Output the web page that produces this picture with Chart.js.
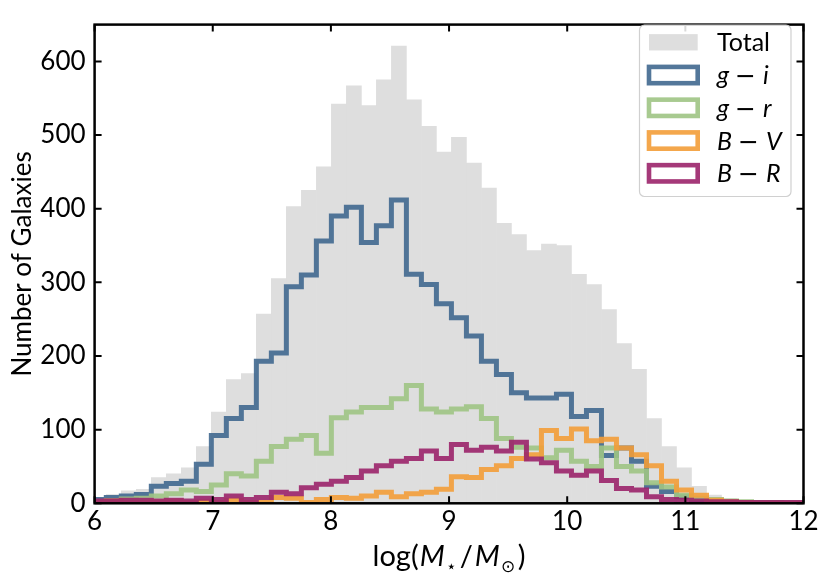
<!DOCTYPE html>
<html>
<head>
<meta charset="utf-8">
<script src="https://cdn.jsdelivr.net/npm/chart.js@4.4.0/dist/chart.umd.min.js"></script>
<style>
  html, body { margin: 0; padding: 0; background: #fff; }
</style>
</head>
<body>
<canvas id="histChart" width="830" height="583"></canvas>
<script>
// bin edges of the mass histogram (log M*/Msun)
const binEdges = [5.972, 6.099, 6.226, 6.353, 6.480, 6.607, 6.734, 6.861, 6.988, 7.115,
  7.242, 7.369, 7.496, 7.623, 7.750, 7.877, 8.004, 8.131, 8.258, 8.385,
  8.512, 8.639, 8.766, 8.893, 9.020, 9.147, 9.274, 9.401, 9.528, 9.655,
  9.782, 9.909, 10.036, 10.163, 10.290, 10.417, 10.544, 10.671, 10.798, 10.925,
  11.052, 11.179, 11.306, 11.433, 11.560, 11.687, 11.814, 11.941, 12.068];

const totalCounts = [7, 12, 17, 19, 35, 40, 48, 77, 124, 168, 176, 257, 305, 403, 425, 457,
  542, 567, 540, 575, 621, 548, 512, 477, 497, 462, 428, 380, 365, 343, 352, 350,
  311, 297, 263, 217, 182, 115, 77, 48, 23, 11, 6, 4, 3, 2, 1, 1];
const giCounts = [5, 8, 10, 12, 23, 27, 30, 53, 92, 115, 130, 193, 204, 294, 310, 356,
  390, 402, 354, 377, 412, 311, 297, 271, 252, 227, 193, 175, 150, 143, 143, 148,
  118, 126, 65, 75, 57, 23, 16, 9, 4, 2, 1, 0, 0, 0, 0, 0];
const grCounts = [2, 3, 6, 7, 10, 13, 18, 16, 25, 40, 37, 57, 77, 87, 92, 68,
  116, 124, 130, 130, 142, 160, 128, 124, 128, 131, 115, 88, 76, 75, 62, 72,
  57, 50, 75, 50, 44, 28, 22, 11, 7, 5, 3, 2, 1, 1, 0, 0];
const bvCounts = [1, 3, 1, 1, 2, 3, 1, 2, 1, 4, 1, 1, 8, 7, 1, 5,
  8, 7, 10, 15, 9, 13, 15, 19, 36, 35, 46, 51, 61, 66, 99, 88,
  101, 85, 87, 75, 66, 51, 30, 18, 11, 4, 2, 1, 0, 0, 0, 0];
const brCounts = [3, 3, 4, 4, 3, 4, 3, 7, 5, 10, 5, 8, 15, 13, 21, 26,
  30, 35, 44, 51, 57, 61, 71, 61, 80, 72, 76, 71, 83, 60, 55, 44,
  38, 44, 31, 20, 18, 9, 5, 4, 3, 2, 2, 1, 1, 1, 1, 1];

const xTicks = [6, 7, 8, 9, 10, 11, 12];
const yTicks = [0, 100, 200, 300, 400, 500, 600];

const FONT = 'Lato, "Open Sans", sans-serif';
const colors = {
    total: '#dedede',
    gi: 'rgba(64, 104, 143, 0.9)',
    gr: 'rgba(158, 196, 132, 0.9)',
    bv: 'rgba(243, 157, 56, 0.9)',
    br: 'rgba(155, 35, 106, 0.9)'
};

// outline of a step histogram, like histtype='step'
function stepPoints(counts) {
    const pts = [{x: binEdges[0], y: 0}];
    counts.forEach((c, i) => pts.push({x: binEdges[i], y: c}));
    pts.push({x: binEdges[counts.length], y: counts[counts.length - 1]});
    pts.push({x: binEdges[counts.length], y: 0});
    return pts;
}

function stepSet(label, counts, color, order) {
    return {
        type: 'line', label: label, data: stepPoints(counts),
        borderColor: color, backgroundColor: color, borderWidth: 5,
        stepped: 'before', pointRadius: 0, fill: false, order: order, clip: 0
    };
}

// draws text pieces, some italic, from x at baseline y
function pieceFont(p, size) {
    const s = p.sub ? size * 0.6 : size;
    return (p.it ? 'italic ' : '') + s + 'px ' + (p.fam || FONT);
}
function drawPieces(ctx, pieces, x, y, size) {
    pieces.forEach(p => {
        ctx.font = pieceFont(p, size);
        ctx.fillText(p.t, x, y + (p.sub ? size * 0.22 : 0));
        x += ctx.measureText(p.t).width + (p.gap || 0);
    });
}
function piecesWidth(ctx, pieces, size) {
    let w = 0;
    pieces.forEach(p => {
        ctx.font = pieceFont(p, size);
        w += ctx.measureText(p.t).width + (p.gap || 0);
    });
    return w;
}

const framePlugin = {
    id: 'framePlugin',
    afterDraw(chart) {
        const ctx = chart.ctx;
        const a = chart.chartArea;
        const xs = chart.scales.x, ys = chart.scales.y;
        ctx.save();
        ctx.strokeStyle = '#000';
        ctx.lineWidth = 2.5;
        ctx.strokeRect(a.left, a.top, a.right - a.left, a.bottom - a.top);
        // inward ticks on all four sides
        ctx.lineWidth = 2;
        const tl = 7;
        ctx.beginPath();
        xTicks.forEach(v => {
            const px = xs.getPixelForValue(v);
            ctx.moveTo(px, a.bottom); ctx.lineTo(px, a.bottom - tl);
            ctx.moveTo(px, a.top); ctx.lineTo(px, a.top + tl);
        });
        yTicks.forEach(v => {
            const py = ys.getPixelForValue(v);
            ctx.moveTo(a.left, py); ctx.lineTo(a.left + tl, py);
            ctx.moveTo(a.right, py); ctx.lineTo(a.right - tl, py);
        });
        ctx.stroke();

        // x axis title: log(M*/Msun)
        ctx.fillStyle = '#000';
        ctx.textBaseline = 'alphabetic';
        ctx.textAlign = 'left';
        const tsize = 29;
        const title = [
            {t: 'log(', gap: 1}, {t: 'M', it: true, gap: 1}, {t: '\u22C6', sub: true, gap: 3},
            {t: '/', gap: 2}, {t: 'M', it: true, gap: 1}, {t: '\u2299', sub: true, gap: 3}, {t: ')'}
        ];
        const tw = piecesWidth(ctx, title, tsize);
        drawPieces(ctx, title, (a.left + a.right) / 2 - tw / 2, 566, tsize);

        // legend box
        const lx = 639.5, ly = 25, lw = 151.5, lh = 171.5;
        ctx.beginPath();
        ctx.roundRect(lx, ly, lw, lh, 5);
        ctx.fillStyle = 'rgba(255,255,255,0.85)';
        ctx.fill();
        ctx.strokeStyle = '#d0d0d0';
        ctx.lineWidth = 1.2;
        ctx.stroke();
        const sets = chart.data.datasets;
        sets.forEach((ds, i) => {
            const cy = 42.3 + i * 32.75;
            const px = 649, pw = 48.7, ph = 16.3;
            if (ds.type === 'bar') {
                ctx.fillStyle = ds.backgroundColor;
                ctx.fillRect(px, cy - ph / 2, pw, ph);
            } else {
                ctx.strokeStyle = ds.borderColor;
                ctx.lineWidth = 4.6;
                ctx.strokeRect(px, cy - ph / 2, pw, ph);
            }
            ctx.fillStyle = '#000';
            let pieces;
            if (ds.label.includes(' \u2212 ')) {
                const [l, r] = ds.label.split(' \u2212 ');
                pieces = [{t: l, it: true, gap: 6}, {t: '\u2212', fam: '"DejaVu Sans"', gap: 7}, {t: r, it: true}];
            } else {
                pieces = [{t: ds.label}];
            }
            drawPieces(ctx, pieces, 717, cy + 9, 25);
        });
        ctx.restore();
    }
};

const ctx = document.getElementById('histChart').getContext('2d');
const myChart = new Chart(ctx, {
    type: 'bar',
    data: {
        datasets: [
            {
                type: 'bar', label: 'Total',
                data: totalCounts.map((c, i) => ({x: (binEdges[i] + binEdges[i + 1]) / 2, y: c})),
                backgroundColor: colors.total, borderWidth: 0,
                barPercentage: 1, categoryPercentage: 1, order: 5, clip: 0
            },
            stepSet('g \u2212 i', giCounts, colors.gi, 4),
            stepSet('g \u2212 r', grCounts, colors.gr, 3),
            stepSet('B \u2212 V', bvCounts, colors.bv, 2),
            stepSet('B \u2212 R', brCounts, colors.br, 1)
        ]
    },
    options: {
        responsive: false,
        animation: false,
        layout: { padding: { left: 0, right: 26.5, top: 14, bottom: 0 } },
        plugins: {
            legend: { display: false },
            tooltip: { enabled: false }
        },
        scales: {
            x: {
                type: 'linear', min: 6, max: 12, offset: false,
                afterBuildTicks: s => { s.ticks = xTicks.map(v => ({value: v})); },
                afterFit: s => { s.height = 79.7; },
                ticks: { color: '#000', font: { family: FONT, size: 26 }, padding: 3, maxRotation: 0 },
                grid: { display: false, drawTicks: false, offset: false },
                border: { display: false }
            },
            y: {
                type: 'linear', min: 0, max: 650,
                afterBuildTicks: s => { s.ticks = yTicks.map(v => ({value: v})); },
                afterFit: s => { s.width = 94.6; },
                ticks: { color: '#000', font: { family: FONT, size: 26 }, padding: 9 },
                grid: { display: false, drawTicks: false },
                border: { display: false },
                title: {
                    display: true, text: 'Number of Galaxies', color: '#000',
                    font: { family: FONT, size: 26 }, padding: { top: 7, bottom: 0 }
                }
            }
        }
    },
    plugins: [framePlugin]
});
</script>
</body>
</html>
